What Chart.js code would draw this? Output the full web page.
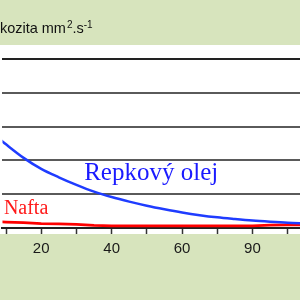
<!DOCTYPE html>
<html>
<head>
<meta charset="utf-8">
<script src="https://cdn.jsdelivr.net/npm/chart.js@4/dist/chart.umd.min.js"></script>
<style>
html,body{margin:0;padding:0;background:#fff;}
canvas{display:block;}
</style>
</head>
<body>
<canvas id="c" width="300" height="300"></canvas>
<script>
// ---- data ----
const xValues   = [5, 10, 15, 20, 25, 30, 35, 40, 45, 50, 55, 60, 65, 70, 75, 80, 85, 90, 95];
const repkovyOlej = [58, 49.5, 41.5, 35, 30, 25.5, 21.5, 18.3, 15.6, 13.2, 11.1, 9.2, 7.6, 6.3, 5.3, 4.4, 3.7, 3.1, 2.7];
const nafta       = [3.8, 3.5, 3.2, 2.6, 2.4, 2.2, 1.6, 1.3, 1.2, 1.2, 1.2, 1.2, 1.2, 1.2, 1.2, 1.3, 1.7, 1.8, 1.8];
const xTickValues = [10, 20, 30, 40, 50, 60, 70, 80, 90];
const xTickLabels = ["", "20", "", "40", "", "60", "", "90", ""];
const yTickValues = [0, 20, 40, 60, 80, 100];
const seriesNames = ["Repkový olej", "Nafta"];
const titleParts  = ["Viskozita mm", "2", ".s", "-1"];

const toPts = (ys) => xValues.map((x, i) => ({x: x, y: ys[i]}));

const bgPlugin = {
  id: 'bg',
  beforeDraw(chart) {
    const ctx = chart.ctx;
    ctx.save();
    ctx.fillStyle = '#d7e4bd';
    ctx.fillRect(0, 0, chart.width, chart.height);
    ctx.fillStyle = '#ffffff';
    ctx.fillRect(0, 45, chart.width, 189);
    // title
    ctx.fillStyle = '#111';
    ctx.textBaseline = 'alphabetic';
    ctx.textAlign = 'left';
    let x = -20, y = 33;
    ctx.font = '14.5px "Liberation Sans", Arial, sans-serif';
    ctx.fillText(titleParts[0], x, y); x += ctx.measureText(titleParts[0]).width + 1;
    ctx.font = '10px "Liberation Sans", Arial, sans-serif';
    ctx.fillText(titleParts[1], x, y - 5); x += ctx.measureText(titleParts[1]).width;
    ctx.font = '14.5px "Liberation Sans", Arial, sans-serif';
    ctx.fillText(titleParts[2], x, y); x += ctx.measureText(titleParts[2]).width;
    ctx.font = '10px "Liberation Sans", Arial, sans-serif';
    ctx.fillText(titleParts[3], x, y - 5);
    ctx.restore();
  }
};

const labelPlugin = {
  id: 'seriesLabels',
  afterDatasetsDraw(chart) {
    const ctx = chart.ctx, xs = chart.scales.x, ys = chart.scales.y;
    ctx.save();
    ctx.textAlign = 'left';
    ctx.textBaseline = 'alphabetic';
    ctx.fillStyle = '#1a1aff';
    ctx.font = '25px "Liberation Serif", "Times New Roman", serif';
    ctx.fillText(seriesNames[0], xs.getPixelForValue(32.2), ys.getPixelForValue(28.4));
    ctx.fillStyle = '#ff1a1a';
    ctx.font = '20px "Liberation Serif", "Times New Roman", serif';
    ctx.fillText(seriesNames[1], xs.getPixelForValue(9.4), ys.getPixelForValue(8.3));
    ctx.restore();
  }
};

new Chart(document.getElementById('c'), {
  type: 'line',
  data: {
    datasets: [
      {label: seriesNames[0], data: toPts(repkovyOlej), borderColor: '#1f3cff', borderWidth: 2.5, pointRadius: 0, cubicInterpolationMode: 'monotone', fill: false},
      {label: seriesNames[1], data: toPts(nafta), borderColor: '#ff0000', borderWidth: 2.8, pointRadius: 0, tension: 0, fill: false}
    ]
  },
  options: {
    responsive: false,
    animation: false,
    layout: {padding: {top: 59, left: 0, right: 0, bottom: 0}},
    plugins: {legend: {display: false}, tooltip: {enabled: false}},
    scales: {
      x: {
        type: 'linear', min: 9, max: 93.5,
        afterBuildTicks(s) { s.ticks = xTickValues.map(v => ({value: v})); },
        afterFit(s) { s.height = 72; },
        grid: {drawOnChartArea: false, drawTicks: true, tickLength: 6, tickColor: '#333', tickWidth: 1.5},
        border: {display: true, color: '#222', width: 2},
        ticks: {
          autoSkip: false, maxRotation: 0, padding: 6, color: '#1a1a1a',
          font: {family: '"Liberation Sans", Arial, sans-serif', size: 15},
          callback(v) { const i = xTickValues.indexOf(v); return i >= 0 ? xTickLabels[i] : ''; }
        }
      },
      y: {
        type: 'linear', min: 0, max: 100,
        afterBuildTicks(s) { s.ticks = yTickValues.map(v => ({value: v})); },
        afterFit(s) { s.width = 0; },
        grid: {drawTicks: false, color: (c) => c.tick && c.tick.value === 100 ? '#222' : '#5a5a5a', lineWidth: 2},
        border: {display: false},
        ticks: {display: false}
      }
    }
  },
  plugins: [bgPlugin, labelPlugin]
});
</script>
</body>
</html>
